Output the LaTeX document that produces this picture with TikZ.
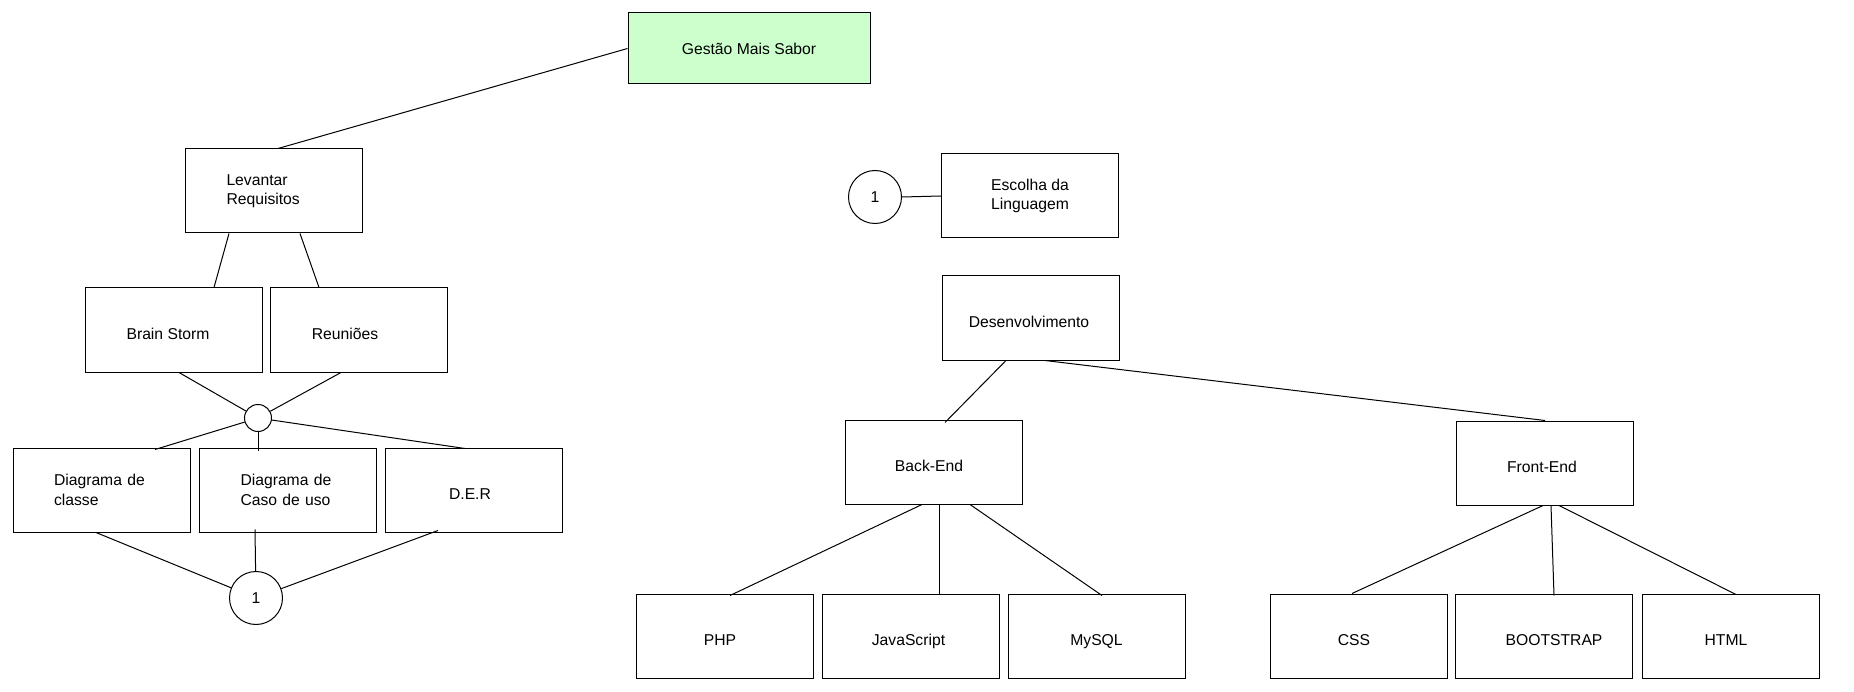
\documentclass[tikz,border=0pt]{standalone}
\usepackage{fontspec}
\setmainfont{Liberation Sans}
\begin{document}
\begin{tikzpicture}[x=1pt,y=-1pt,
  every node/.style={font=\fontsize{15.7}{19.5}\selectfont},
  box/.style={draw,line width=1pt,rectangle,minimum width=177pt,minimum height=84pt,inner sep=0pt},
  oneline/.style={box,text height=19pt,text depth=0pt},
  leftbox/.style={box,align=left,text width=95pt},
  root/.style={box,minimum width=242pt,minimum height=71pt,fill=rootgreen},
  textnudge/.style={execute at begin node={\hspace*{#1}}},
  joint/.style={draw,line width=1pt,circle,inner sep=0pt,minimum size=27pt},
  ref/.style={draw,line width=1pt,circle,inner sep=0pt,minimum size=53pt},
  link/.style={line width=1pt}]
\definecolor{rootgreen}{HTML}{CCFFCC}
\useasboundingbox[fill=white] (0,0) rectangle (1854,692);

% left branch: requirements gathering
\node[root] (gestao) at (749,48.5) {Gestão Mais Sabor};
\node[leftbox] (levantar) at (274,191) {Levantar\\Requisitos};
\node[oneline,textnudge=-12pt] (brain) at (174,330) {Brain Storm};
\node[oneline,textnudge=-28pt] (reun) at (359,330) {Reuniões};
\node[joint] (junction) at (258,418) {};
\node[leftbox] (classe) at (101.5,490) {Diagrama de\\classe};
\node[leftbox] (caso) at (288,490) {Diagrama de\\Caso de uso};
\node[oneline,textnudge=-7pt] (der) at (473.5,490) {D.E.R};
\node[ref] (one1) at (256,598) {1};

% right branch: language choice and development
\node[ref] (one2) at (875,197) {1};
\node[box,align=center] (escolha) at (1030,196) {Escolha da\\Linguagem};
\node[oneline,textnudge=-4pt] (desenv) at (1031,318) {Desenvolvimento};
\node[oneline,textnudge=-10pt] (back) at (934,462) {Back-End};
\node[oneline,textnudge=-6pt] (front) at (1545,463) {Front-End};
\node[oneline,textnudge=-10pt] (php) at (725,636) {PHP};
\node[oneline,textnudge=-4pt] (js) at (910.5,636) {JavaScript};
\node[oneline] (mysql) at (1096.5,636) {MySQL};
\node[oneline,textnudge=-10pt] (css) at (1359,636) {CSS};
\node[oneline,textnudge=21pt] (boot) at (1543.5,636) {BOOTSTRAP};
\node[oneline,textnudge=-10pt] (html) at (1731,636) {HTML};

% connectors
\draw[link] (gestao.west) -- ([xshift=4]levantar.north);
\draw[link] ([xshift=-45]levantar.south) -- ([xshift=40]brain.north);
\draw[link] ([xshift=26]levantar.south) -- ([xshift=-40]reun.north);
\draw[link] ([xshift=5]brain.south) -- (junction);
\draw[link] ([xshift=-18]reun.south) -- (junction);
\draw[link] (junction) -- ([xshift=53.5,yshift=-2]classe.north);
\draw[link] (junction) -- ([xshift=-30,yshift=-3]caso.north);
\draw[link] (junction) -- ([xshift=-8.5,yshift=-1]der.north);
\draw[link] ([xshift=-5.5]classe.south) -- (one1);
\draw[link] ([xshift=-33,yshift=3]caso.south) -- (one1);
\draw[link] ([xshift=-35.5,yshift=2]der.south) -- (one1);

\draw[link] (one2.east) -- (escolha.west);
\draw[link] ([xshift=-25]desenv.south) -- ([xshift=11,yshift=-3]back.north);
\draw[link] ([xshift=14]desenv.south) -- (front.north);
\draw[link] ([xshift=-12]back.south) -- ([xshift=5,yshift=-2]php.north);
\draw[link] ([xshift=5]back.south) -- ([xshift=28.5,yshift=-1]js.north);
\draw[link] ([xshift=36]back.south) -- ([xshift=5.5,yshift=-2]mysql.north);
\draw[link] ([xshift=-2]front.south) -- ([xshift=-7]css.north);
\draw[link] ([xshift=6]front.south) -- ([xshift=10.5,yshift=-2]boot.north);
\draw[link] ([xshift=14]front.south) -- ([xshift=5,yshift=-1]html.north);
\end{tikzpicture}
\end{document}
